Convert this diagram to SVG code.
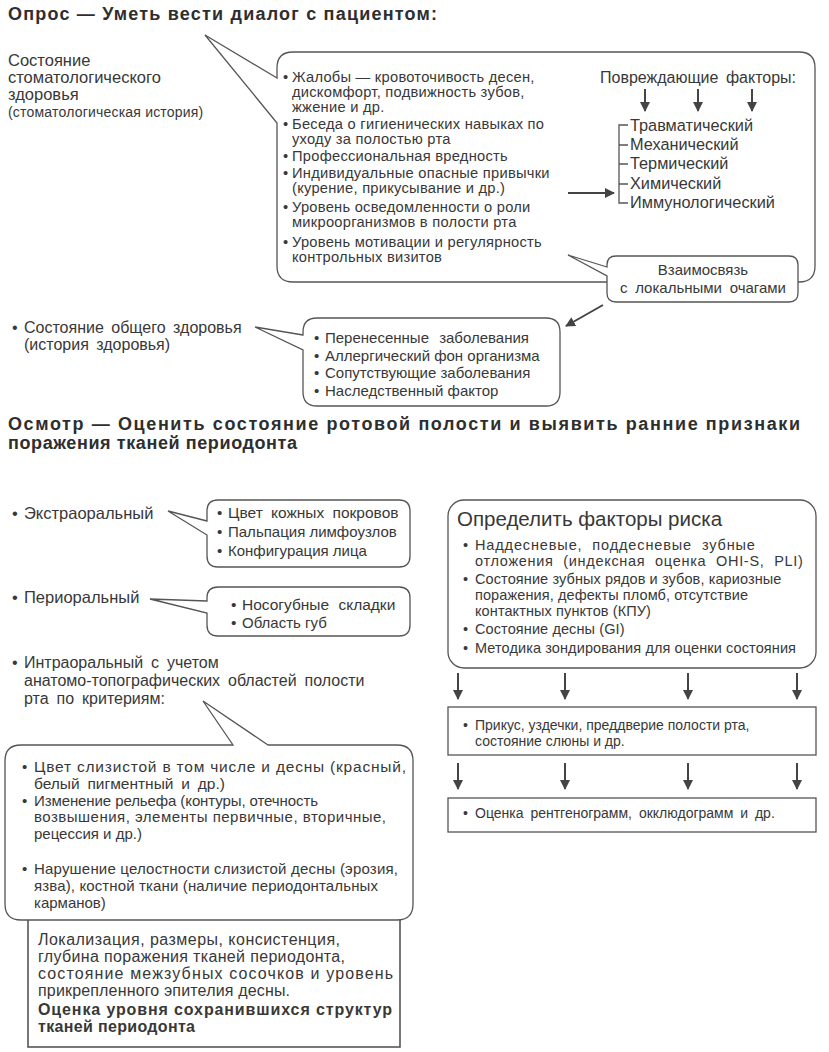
<svg xmlns="http://www.w3.org/2000/svg" width="829" height="1052" viewBox="0 0 829 1052">
<defs>
<style>
text{font-family:"Liberation Sans",Arial,sans-serif;fill:#383838}
.h{font-size:18px;font-weight:bold;fill:#2e2e2e}
.s15{font-size:15px}
.s14{font-size:14px}
.s145{font-size:14.5px}
.s16{font-size:16px}
.s165{font-size:16.5px}
.bld{font-weight:bold}
.box{fill:#fff;stroke:#555;stroke-width:1.3}
.rbox{fill:#fff;stroke:#555;stroke-width:1.6}
.ln{fill:none;stroke:#555;stroke-width:1.3}
.ar{fill:none;stroke:#444;stroke-width:2}
</style>
<marker id="ah" viewBox="0 0 10 10" refX="9" refY="5" markerWidth="5" markerHeight="5" orient="auto" markerUnits="strokeWidth">
<path d="M0,0 L10,5 L0,10 Z" fill="#444"/>
</marker>
</defs>
<rect width="829" height="1052" fill="#fff"/>

<g id="title1"><text class="h" x="8" y="20" textLength="429" lengthAdjust="spacing">Опрос — Уметь вести диалог с пациентом:</text></g>

<g id="dental-history">
<text class="s165" x="8" y="66">Состояние</text>
<text class="s165" x="8" y="83">стоматологического</text>
<text class="s165" x="8" y="100">здоровья</text>
<text x="8" y="117" style="font-size:14px" letter-spacing="0.2">(стоматологическая история)</text>
</g>

<g id="anamnesis-box">
<path class="box" d="M277,78 L205,35 L277,123 L277,266 Q277,282 293,282 L799,282 Q815,282 815,266 L815,68 Q815,52 799,52 L293,52 Q277,52 277,68 Z"/>
<g style="font-size:14.7px" letter-spacing="0.25">
<text x="283" y="82">•</text><text x="292" y="82">Жалобы — кровоточивость десен,</text>
<text x="292" y="97">дискомфорт, подвижность зубов,</text>
<text x="292" y="112">жжение и др.</text>
<text x="283" y="129">•</text><text x="292" y="129">Беседа о гигиенических навыках по</text>
<text x="292" y="144">уходу за полостью рта</text>
<text x="283" y="161">•</text><text x="292" y="161">Профессиональная вредность</text>
<text x="283" y="178">•</text><text x="292" y="178">Индивидуальные опасные привычки</text>
<text x="292" y="193">(курение, прикусывание и др.)</text>
<text x="283" y="212">•</text><text x="292" y="212">Уровень осведомленности о роли</text>
<text x="292" y="227">микроорганизмов в полости рта</text>
<text x="283" y="247">•</text><text x="292" y="247">Уровень мотивации и регулярность</text>
<text x="292" y="262">контрольных визитов</text>
</g>
<text class="s16" x="600" y="83" word-spacing="3">Повреждающие факторы:</text>
<g style="font-size:16.3px">
<text x="630" y="131">Травматический</text>
<text x="630" y="150">Механический</text>
<text x="630" y="169">Термический</text>
<text x="630" y="189">Химический</text>
<text x="630" y="208">Иммунологический</text>
</g>
</g>

<g id="link-box">
<path class="box" d="M607,267 L568,255 L607,276 L607,293 Q607,302 616,302 L789,302 Q798,302 798,293 L798,265 Q798,256 789,256 L616,256 Q607,256 607,265 Z"/>
<text class="s15" x="703" y="275" text-anchor="middle">Взаимосвязь</text>
<text class="s15" x="703" y="293" text-anchor="middle" word-spacing="3.5">с локальными очагами</text>
</g>

<g id="general-health">
<text class="s16" x="12" y="333">•</text>
<text class="s16" x="24" y="333" word-spacing="3">Состояние общего здоровья</text>
<text class="s16" x="24" y="350" word-spacing="3">(история здоровья)</text>
</g>

<g id="general-box">
<path class="box" d="M303,335 L255,327 L303,350 L303,392 Q303,406 317,406 L546,406 Q560,406 560,392 L560,332 Q560,318 546,318 L317,318 Q303,318 303,332 Z"/>
<g class="s15">
<text x="314" y="343">•</text><text x="325" y="343" word-spacing="6">Перенесенные заболевания</text>
<text x="314" y="361">•</text><text x="325" y="361">Аллергический фон организма</text>
<text x="314" y="378">•</text><text x="325" y="378">Сопутствующие заболевания</text>
<text x="314" y="396">•</text><text x="325" y="396">Наследственный фактор</text>
</g>
</g>

<g id="title2">
<text class="h" x="8" y="430" textLength="792" lengthAdjust="spacing">Осмотр — Оценить состояние ротовой полости и выявить ранние признаки</text>
<text class="h" x="8" y="449" textLength="289" lengthAdjust="spacing">поражения тканей периодонта</text>
</g>

<g id="extraoral">
<text class="s165" x="12" y="519">•</text><text class="s165" x="24" y="519">Экстраоральный</text>
</g>
<g id="extraoral-box">
<path class="box" d="M207,521 L168,511 L207,535 L207,556 Q207,567 218,567 L399,567 Q410,567 410,556 L410,511 Q410,500 399,500 L218,500 Q207,500 207,511 Z"/>
<g class="s15">
<text x="217" y="518">•</text><text x="228" y="518" word-spacing="4" style="font-size:15.5px">Цвет кожных покровов</text>
<text x="217" y="537">•</text><text x="228" y="537">Пальпация лимфоузлов</text>
<text x="217" y="556">•</text><text x="228" y="556">Конфигурация лица</text>
</g>
</g>

<g id="perioral">
<text class="s165" x="12" y="603">•</text><text class="s165" x="24" y="603">Периоральный</text>
</g>
<g id="perioral-box">
<path class="box" d="M207,601 L150,599 L207,613 L207,625 Q207,636 218,636 L399,636 Q410,636 410,625 L410,598 Q410,587 399,587 L218,587 Q207,587 207,598 Z"/>
<g style="font-size:15.5px">
<text x="231" y="610">•</text><text x="242" y="610" word-spacing="5">Носогубные складки</text>
<text x="231" y="628">•</text><text x="242" y="628" style="font-size:15px">Область губ</text>
</g>
</g>

<g id="intraoral">
<g class="s16" word-spacing="3.5">
<text x="12" y="668">•</text><text x="24" y="668">Интраоральный с учетом</text>
<text x="24" y="686">анатомо-топографических областей полости</text>
<text x="24" y="704">рта по критериям:</text>
</g>
</g>

<g id="criteria-result">
<rect class="rbox" x="28" y="905" width="372" height="142"/>
<g class="s16">
<text x="38" y="945" textLength="302" lengthAdjust="spacing">Локализация, размеры, консистенция,</text>
<text x="38" y="962" textLength="307" lengthAdjust="spacing">глубина поражения тканей периодонта,</text>
<text x="38" y="979" textLength="355" lengthAdjust="spacing">состояние межзубных сосочков и уровень</text>
<text x="38" y="996" textLength="252" lengthAdjust="spacing">прикрепленного эпителия десны.</text>
<text class="bld" x="38" y="1015" textLength="354" lengthAdjust="spacing">Оценка уровня сохранившихся структур</text>
<text class="bld" x="38" y="1032" textLength="157" lengthAdjust="spacing">тканей периодонта</text>
</g>
</g>

<g id="criteria-box">
<path class="box" d="M268,745 L203,701 L233,745 L21,745 Q5,745 5,761 L5,904 Q5,920 21,920 L397,920 Q413,920 413,904 L413,761 Q413,745 397,745 Z"/>
<g class="s15">
<text x="22" y="772">•</text><text x="34" y="772" style="font-size:15.5px" textLength="372" lengthAdjust="spacing">Цвет слизистой в том числе и десны (красный,</text>
<text x="34" y="789" style="font-size:15.5px" word-spacing="3.5">белый пигментный и др.)</text>
<text x="22" y="806">•</text><text x="34" y="806" textLength="284" lengthAdjust="spacing">Изменение рельефа (контуры, отечность</text>
<text x="34" y="822" textLength="352" lengthAdjust="spacing">возвышения, элементы первичные, вторичные,</text>
<text x="34" y="839">рецессия и др.)</text>
<text x="22" y="874">•</text><text x="34" y="874" textLength="364" lengthAdjust="spacing">Нарушение целостности слизистой десны (эрозия,</text>
<text x="34" y="891" textLength="344" lengthAdjust="spacing">язва), костной ткани (наличие периодонтальных</text>
<text x="34" y="908">карманов)</text>
</g>
</g>

<g id="risk-box">
<rect class="box" x="448" y="500" width="368" height="168" rx="16"/>
<text x="457" y="526" style="font-size:20.5px">Определить факторы риска</text>
<g class="s145" letter-spacing="0.1">
<text x="463" y="550">•</text><text x="475" y="550" textLength="280" lengthAdjust="spacing" word-spacing="5">Наддесневые, поддесневые зубные</text>
<text x="475" y="566" textLength="328" lengthAdjust="spacing" word-spacing="5">отложения (индексная оценка OHI-S, PLI)</text>
<text x="463" y="584">•</text><text x="475" y="584">Состояние зубных рядов и зубов, кариозные</text>
<text x="475" y="600">поражения, дефекты пломб, отсутствие</text>
<text x="475" y="616">контактных пунктов (КПУ)</text>
<text x="463" y="634">•</text><text x="475" y="634">Состояние десны (GI)</text>
<text x="463" y="653">•</text><text x="475" y="653">Методика зондирования для оценки состояния</text>
</g>
</g>

<g id="bite-box">
<rect class="box" x="448" y="707" width="368" height="48"/>
<g class="s14">
<text x="463" y="730">•</text><text x="475" y="730">Прикус, уздечки, преддверие полости рта,</text>
<text x="475" y="746">состояние слюны и др.</text>
</g>
</g>

<g id="xray-box">
<rect class="box" x="448" y="798" width="368" height="34"/>
<g class="s14">
<text x="463" y="818">•</text><text x="475" y="818" word-spacing="3">Оценка рентгенограмм, окклюдограмм и др.</text>
</g>
</g>

<g id="connectors">
<line class="ar" x1="645" y1="89" x2="645" y2="111" marker-end="url(#ah)"/>
<line class="ar" x1="698" y1="89" x2="698" y2="111" marker-end="url(#ah)"/>
<line class="ar" x1="752" y1="89" x2="752" y2="111" marker-end="url(#ah)"/>
<path class="ln" d="M628,125 L619,125 L619,203 L628,203 M619,145 L628,145 M619,164 L628,164 M619,184 L628,184"/>
<line class="ar" x1="568" y1="193" x2="614" y2="193" marker-end="url(#ah)"/>
<line class="ar" x1="603" y1="305" x2="566" y2="326" marker-end="url(#ah)"/>
<line class="ar" x1="458" y1="673" x2="458" y2="699" marker-end="url(#ah)"/>
<line class="ar" x1="565" y1="673" x2="565" y2="699" marker-end="url(#ah)"/>
<line class="ar" x1="688" y1="673" x2="688" y2="699" marker-end="url(#ah)"/>
<line class="ar" x1="797" y1="673" x2="797" y2="699" marker-end="url(#ah)"/>
<line class="ar" x1="458" y1="763" x2="458" y2="789" marker-end="url(#ah)"/>
<line class="ar" x1="565" y1="763" x2="565" y2="789" marker-end="url(#ah)"/>
<line class="ar" x1="688" y1="763" x2="688" y2="789" marker-end="url(#ah)"/>
<line class="ar" x1="797" y1="763" x2="797" y2="789" marker-end="url(#ah)"/>
</g>
</svg>
